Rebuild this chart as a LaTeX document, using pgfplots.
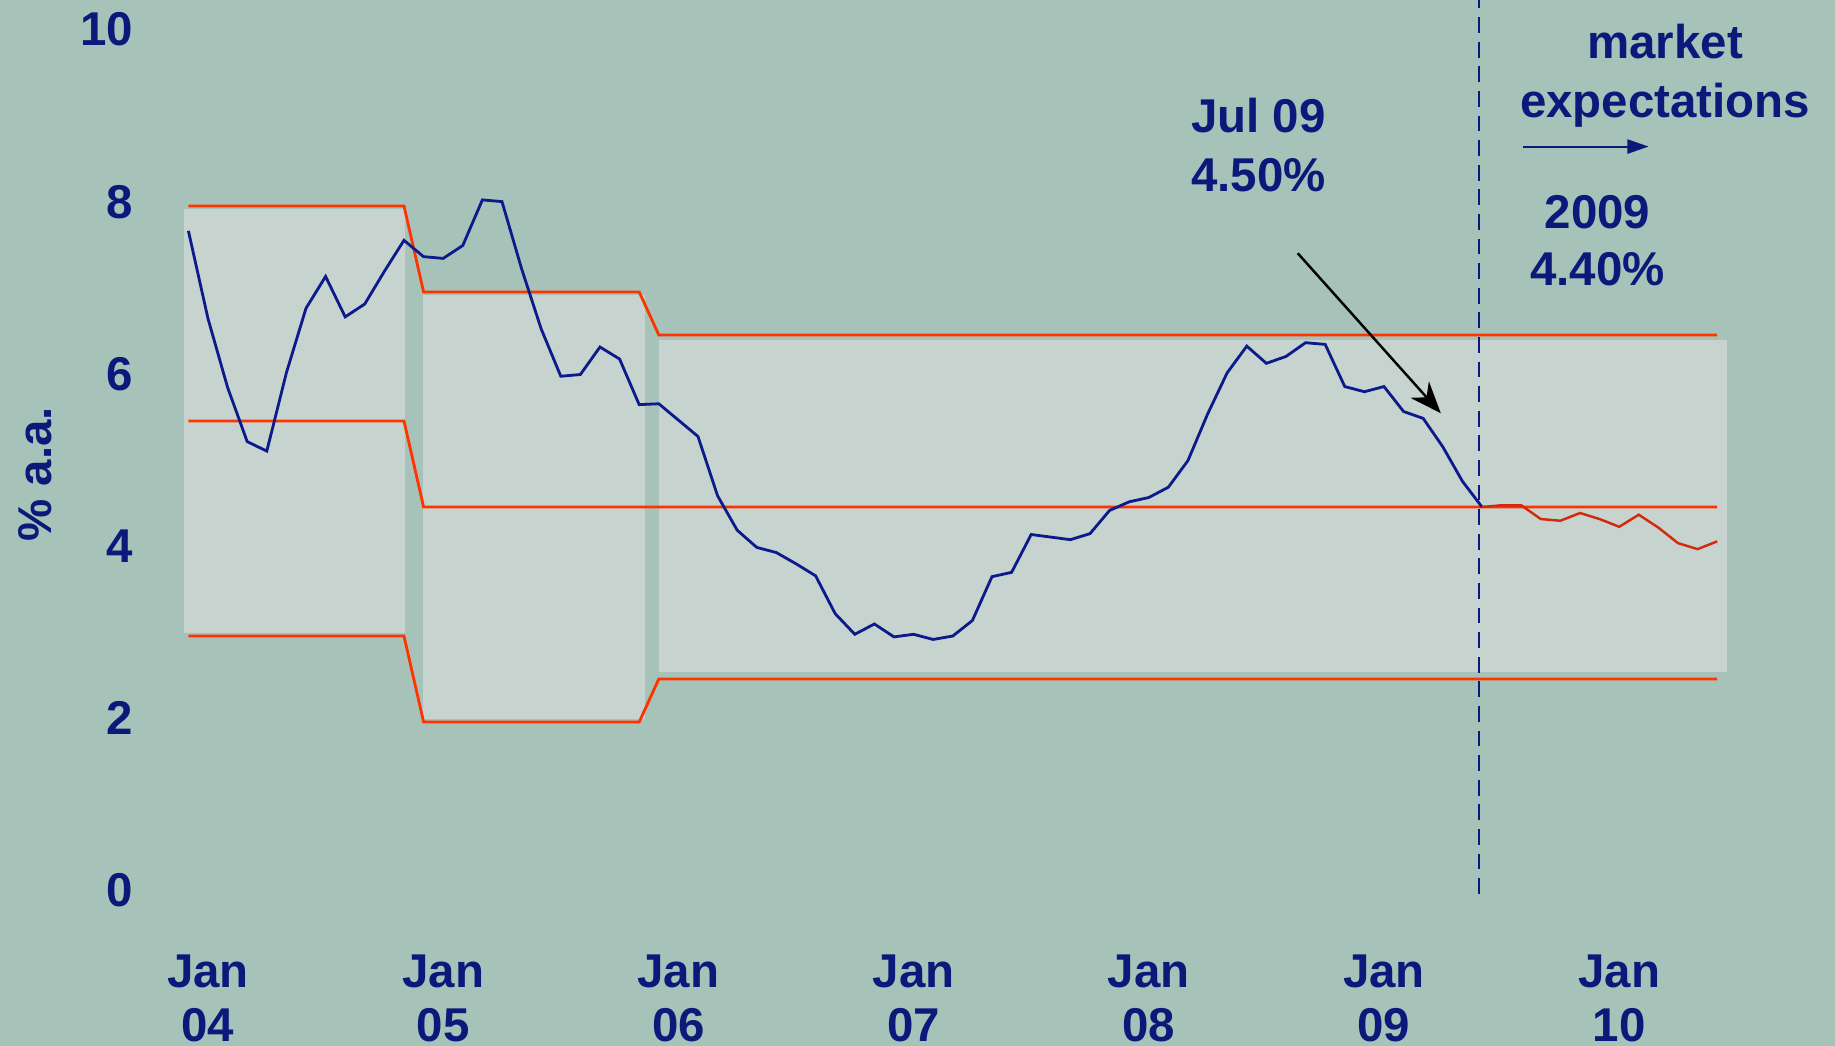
\documentclass[border=0pt]{standalone}
\usepackage{fontspec}
\setmainfont{Liberation Sans}
\usepackage{pgfplots}
\pgfplotsset{compat=1.18}
\usetikzlibrary{arrows.meta}

\definecolor{bg}{HTML}{A7C3B9}
\definecolor{panel}{HTML}{C6D3CE}
\definecolor{band}{HTML}{FF3300}
\definecolor{fcast}{HTML}{D42A0C}
\definecolor{ipca}{HTML}{0C1A8C}
\definecolor{navy}{HTML}{0B1A7A}

\newcommand{\lbl}{\fontsize{13.5}{15.3}\selectfont\bfseries}

\begin{document}
\begin{tikzpicture}
\fill[bg] (0,0) rectangle (18.35cm,10.46cm);
\path[use as bounding box] (0,0) rectangle (18.35cm,10.46cm);

\begin{axis}[
    at={(1.492cm,1.519cm)}, anchor=south west,
    scale only axis, width=16.072cm, height=8.602cm,
    xmin=-2, xmax=80, ymin=0, ymax=10,
    clip=false,
    axis line style={draw=none},
    tick style={draw=none},
    major tick length=0pt,
    ytick={0,2,...,10},
    xtick={1,13,25,37,49,61,73},
    xticklabels={{Jan\\04},{Jan\\05},{Jan\\06},{Jan\\07},{Jan\\08},{Jan\\09},{Jan\\10}},
    /pgf/number format/assume math mode=true,
    ticklabel style={font=\lbl, text=navy},
    xticklabel style={align=center, yshift=-13.8pt},
    yticklabel style={xshift=-1pt, yshift=1.2pt},
]
% light panels behind each target band
\addplot[fill=panel, draw=none] coordinates {(-0.24,3.03) (11.07,3.03) (11.07,7.96) (-0.24,7.96)} --cycle;
\addplot[fill=panel, draw=none] coordinates {(11.96,2.03) (23.28,2.03) (23.28,6.97) (11.96,6.97)} --cycle;
\addplot[fill=panel, draw=none] coordinates {(24.0,2.58) (78.5,2.58) (78.5,6.44) (24.0,6.44)} --cycle;

% target bands
\addplot[band, line width=0.8pt] coordinates {(0,8) (11,8) (12,7) (23,7) (24,6.5) (78,6.5)};
\addplot[band, line width=0.8pt] coordinates {(0,5.5) (11,5.5) (12,4.5) (78,4.5)};
\addplot[band, line width=0.8pt] coordinates {(0,3) (11,3) (12,2) (23,2) (24,2.5) (78,2.5)};

% IPCA 12 months
\addplot[ipca, line width=0.8pt] coordinates {
(0,7.71) (1,6.69) (2,5.89) (3,5.26) (4,5.15) (5,6.06) (6,6.81) (7,7.18) (8,6.71) (9,6.86) (10,7.24) (11,7.60)
(12,7.41) (13,7.39) (14,7.54) (15,8.07) (16,8.05) (17,7.27) (18,6.57) (19,6.02) (20,6.04) (21,6.36) (22,6.22) (23,5.69)
(24,5.70) (25,5.51) (26,5.32) (27,4.63) (28,4.23) (29,4.03) (30,3.97) (31,3.84) (32,3.70) (33,3.26) (34,3.02) (35,3.14)
(36,2.99) (37,3.02) (38,2.96) (39,3.00) (40,3.18) (41,3.69) (42,3.74) (43,4.18) (44,4.15) (45,4.12) (46,4.19) (47,4.46)
(48,4.56) (49,4.61) (50,4.73) (51,5.04) (52,5.58) (53,6.06) (54,6.37) (55,6.17) (56,6.25) (57,6.41) (58,6.39) (59,5.90)
(60,5.84) (61,5.90) (62,5.61) (63,5.53) (64,5.20) (65,4.80) (66,4.50)
};

% market expectations
\addplot[fcast, line width=0.7pt] coordinates {
(66,4.50) (67,4.52) (68,4.52) (69,4.36) (70,4.34) (71,4.43) (72,4.36) (73,4.27) (74,4.41) (75,4.26) (76,4.08) (77,4.01) (78,4.10)
};

\draw[navy, line width=0.65pt, dash pattern=on 4.5pt off 2.5pt] (axis cs:65.85,0) -- (axis cs:65.85,10.39);

\node[rotate=90, anchor=base, font=\lbl, text=navy] at (axis cs:-7.0,4.88) {\% a.a.};

\node[anchor=base, font=\lbl, text=navy] at (axis cs:54.6,8.85) {Jul 09};
\node[anchor=base, font=\lbl, text=navy] at (axis cs:54.6,8.17) {4.50\%};
\draw[black, line width=0.7pt, -{Stealth[length=9pt,width=7pt]}] (axis cs:56.6,7.45) -- (axis cs:63.9,5.59);

\node[anchor=base, font=\lbl, text=navy] at (axis cs:75.35,9.71) {market};
\node[anchor=base, font=\lbl, text=navy] at (axis cs:75.35,9.03) {expectations};
\draw[navy, line width=0.6pt, -{Triangle[length=6pt,width=4pt]}] (axis cs:68.1,8.69) -- (axis cs:74.5,8.69);
\node[anchor=base, font=\lbl, text=navy] at (axis cs:71.9,7.74) {2009};
\node[anchor=base, font=\lbl, text=navy] at (axis cs:71.9,7.07) {4.40\%};
\end{axis}
\end{tikzpicture}
\end{document}
